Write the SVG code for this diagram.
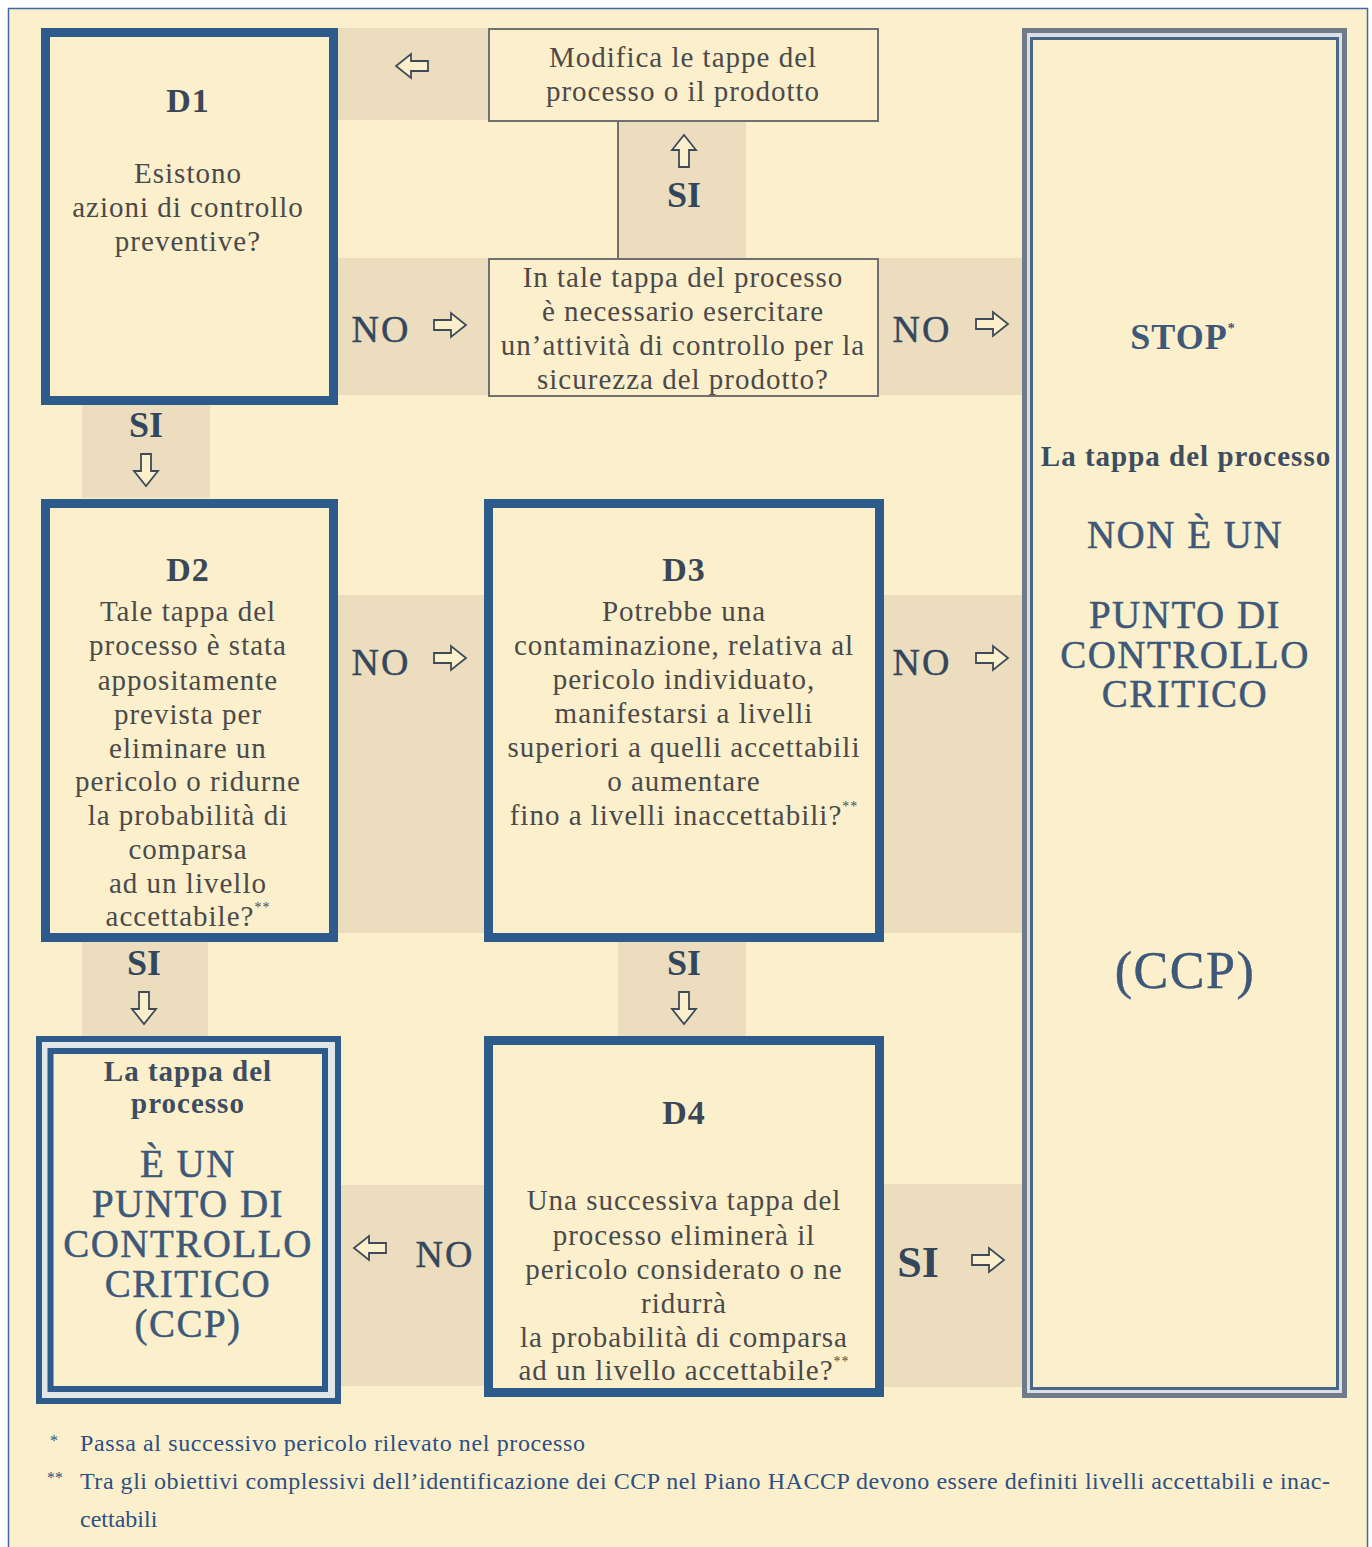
<svg xmlns="http://www.w3.org/2000/svg" xmlns:xlink="http://www.w3.org/1999/xlink" width="1372" height="1547" viewBox="0 0 1372 1547">
<style>
text{font-family:"Liberation Serif","Times New Roman",serif;}
.bg{fill:#FCEFCB;}
.band{fill:#EBDDBE;}
.dbox{fill:#FCEFCB;stroke:#2D5B8C;stroke-width:9;}
.tbox{fill:#FCEFCB;stroke:#707070;stroke-width:2;}
.body{font-size:29px;fill:#4a4a4a;letter-spacing:1px;text-anchor:middle;}
.title{font-size:34px;font-weight:bold;fill:#3b4756;text-anchor:middle;letter-spacing:1px;}
.caps{font-size:39px;fill:#3d5878;stroke:#3d5878;stroke-width:0.5;text-anchor:middle;letter-spacing:1.5px;}
.capsb{font-size:29px;font-weight:bold;fill:#3d4d60;text-anchor:middle;letter-spacing:1px;}
.no{font-size:38px;fill:#34465c;stroke:#34465c;stroke-width:0.4;text-anchor:middle;letter-spacing:2px;}
.si{font-size:36px;font-weight:bold;fill:#34465c;text-anchor:middle;}
.arrow{fill:#FCEFCB;stroke:#3d4a5a;stroke-width:1.8;stroke-linejoin:miter;}
.conn{stroke:#707070;stroke-width:2;fill:none;}
.foot{font-size:24px;fill:#2c5084;}
.sup{font-size:14px;}
</style>
<defs>
<path id="arr" d="M-16,-5 H1 V-12 L16,0 L1,12 V5 H-16 Z"/>
</defs>

<rect x="0" y="0" width="1372" height="1547" fill="#ffffff"/>
<rect class="bg" x="8.5" y="8.5" width="1359" height="1560" stroke="#3d6aa8" stroke-width="1.5"/>

<g id="bands">
<rect class="band" x="338" y="28" width="150" height="92"/>
<rect class="band" x="618" y="121" width="128" height="137"/>
<rect class="band" x="338" y="258" width="684" height="137"/>
<rect class="band" x="82" y="405" width="128" height="93"/>
<rect class="band" x="338" y="595" width="150" height="338"/>
<rect class="band" x="884" y="595" width="138" height="338"/>
<rect class="band" x="82" y="942" width="126" height="94"/>
<rect class="band" x="618" y="942" width="128" height="94"/>
<rect class="band" x="341" y="1185" width="147" height="201"/>
<rect class="band" x="884" y="1184" width="138" height="203"/>
</g>

<g id="connectors">
<line class="conn" x1="618" y1="121" x2="618" y2="258"/>
<use xlink:href="#arr" class="arrow" transform="translate(412,66) rotate(180)"/>
<use xlink:href="#arr" class="arrow" transform="translate(684,151) rotate(-90)"/>
<text class="si" x="684" y="207">SI</text>
<text class="no" x="381" y="342">NO</text>
<use xlink:href="#arr" class="arrow" transform="translate(450,325)"/>
<text class="no" x="922" y="342">NO</text>
<use xlink:href="#arr" class="arrow" transform="translate(992,324)"/>
<text class="si" x="146" y="437">SI</text>
<use xlink:href="#arr" class="arrow" transform="translate(146,470) rotate(90)"/>
<text class="no" x="381" y="675">NO</text>
<use xlink:href="#arr" class="arrow" transform="translate(450,658)"/>
<text class="no" x="922" y="675">NO</text>
<use xlink:href="#arr" class="arrow" transform="translate(992,658)"/>
<text class="si" x="144" y="975">SI</text>
<use xlink:href="#arr" class="arrow" transform="translate(144,1008) rotate(90)"/>
<text class="si" x="684" y="975">SI</text>
<use xlink:href="#arr" class="arrow" transform="translate(684,1008) rotate(90)"/>
<use xlink:href="#arr" class="arrow" transform="translate(370,1248) rotate(180)"/>
<text class="no" x="445" y="1267">NO</text>
<text class="si" x="918" y="1277" style="font-size:44px">SI</text>
<use xlink:href="#arr" class="arrow" transform="translate(988,1260)"/>
</g>

<g id="D1">
<rect class="dbox" x="45.5" y="32.5" width="288" height="368"/>
<text class="title" x="188" y="112">D1</text>
<text class="body" x="188" y="183">Esistono</text>
<text class="body" x="188" y="217">azioni di controllo</text>
<text class="body" x="188" y="251">preventive?</text>
</g>

<g id="modifica">
<rect class="tbox" x="489" y="29" width="389" height="92"/>
<text class="body" x="683" y="67">Modifica le tappe del</text>
<text class="body" x="683" y="101">processo o il prodotto</text>
</g>

<g id="intale">
<rect class="tbox" x="489" y="259" width="389" height="137"/>
<text class="body" x="683" y="287">In tale tappa del processo</text>
<text class="body" x="683" y="321">è necessario esercitare</text>
<text class="body" x="683" y="355">un’attività di controllo per la</text>
<text class="body" x="683" y="389">sicurezza del prodotto?</text>
</g>

<g id="stop">
<rect x="1024.5" y="30.5" width="320" height="1365" fill="#d9dfe4" stroke="#6f7b88" stroke-width="5"/>
<rect x="1031.5" y="38.5" width="306" height="1350" fill="#FCEFCB" stroke="#4b6788" stroke-width="3"/>
<text class="title" x="1183" y="349" style="font-size:36px;fill:#3d5878">STOP<tspan class="sup" dy="-16">*</tspan></text>
<text class="capsb" x="1186" y="466">La tappa del processo</text>
<text class="caps" x="1185" y="548">NON È UN</text>
<text class="caps" x="1185" y="628">PUNTO DI</text>
<text class="caps" x="1185" y="668">CONTROLLO</text>
<text class="caps" x="1185" y="707">CRITICO</text>
<text class="caps" x="1185" y="988" style="font-size:52px">(CCP)</text>
</g>

<g id="D2">
<rect class="dbox" x="45.5" y="503.5" width="288" height="434"/>
<text class="title" x="188" y="581">D2</text>
<text class="body" x="188" y="621">Tale tappa del</text>
<text class="body" x="188" y="655">processo è stata</text>
<text class="body" x="188" y="690">appositamente</text>
<text class="body" x="188" y="724">prevista per</text>
<text class="body" x="188" y="758">eliminare un</text>
<text class="body" x="188" y="791">pericolo o ridurne</text>
<text class="body" x="188" y="825">la probabilità di</text>
<text class="body" x="188" y="859">comparsa</text>
<text class="body" x="188" y="893">ad un livello</text>
<text class="body" x="188" y="926">accettabile?<tspan class="sup" dy="-14">**</tspan></text>
</g>

<g id="D3">
<rect class="dbox" x="488.5" y="503.5" width="391" height="434"/>
<text class="title" x="684" y="581">D3</text>
<text class="body" x="684" y="621">Potrebbe una</text>
<text class="body" x="684" y="655">contaminazione, relativa al</text>
<text class="body" x="684" y="689">pericolo individuato,</text>
<text class="body" x="684" y="723">manifestarsi a livelli</text>
<text class="body" x="684" y="757">superiori a quelli accettabili</text>
<text class="body" x="684" y="791">o aumentare</text>
<text class="body" x="684" y="825">fino a livelli inaccettabili?<tspan class="sup" dy="-14">**</tspan></text>
</g>

<g id="CCP">
<rect x="39" y="1039" width="299" height="362" fill="#e3e6e6" stroke="#2D5B8C" stroke-width="6"/>
<rect x="50.5" y="1051" width="274.5" height="338" fill="#FCEFCB" stroke="#2D5B8C" stroke-width="6"/>
<text class="capsb" x="188" y="1081">La tappa del</text>
<text class="capsb" x="188" y="1113">processo</text>
<text class="caps" x="188" y="1177">È UN</text>
<text class="caps" x="188" y="1217">PUNTO DI</text>
<text class="caps" x="188" y="1257">CONTROLLO</text>
<text class="caps" x="188" y="1297">CRITICO</text>
<text class="caps" x="188" y="1337">(CCP)</text>
</g>

<g id="D4">
<rect class="dbox" x="488.5" y="1040.5" width="391" height="352"/>
<text class="title" x="684" y="1124">D4</text>
<text class="body" x="684" y="1210">Una successiva tappa del</text>
<text class="body" x="684" y="1245">processo eliminerà il</text>
<text class="body" x="684" y="1279">pericolo considerato o ne</text>
<text class="body" x="684" y="1313">ridurrà</text>
<text class="body" x="684" y="1347">la probabilità di comparsa</text>
<text class="body" x="684" y="1380">ad un livello accettabile?<tspan class="sup" dy="-14">**</tspan></text>
</g>

<g id="footnotes">
<text class="foot" x="50" y="1446" style="font-size:16px">*</text>
<text class="foot" x="80" y="1451" textLength="505">Passa al successivo pericolo rilevato nel processo</text>
<text class="foot" x="47" y="1483" style="font-size:16px">**</text>
<text class="foot" x="80" y="1489" textLength="1250">Tra gli obiettivi complessivi dell’identificazione dei CCP nel Piano HACCP devono essere definiti livelli accettabili e inac-</text>
<text class="foot" x="80" y="1527">cettabili</text>
</g>
</svg>
